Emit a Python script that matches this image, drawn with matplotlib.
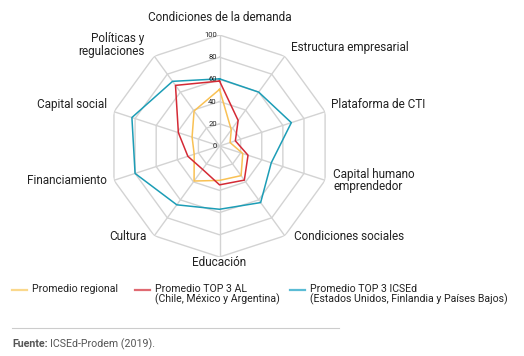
import numpy as np
import matplotlib
matplotlib.use("Agg")
import matplotlib.pyplot as plt
from matplotlib.lines import Line2D

plt.rcParams['font.family'] = ['Roboto', 'DejaVu Sans']

categories = ["Condiciones de la demanda", "Estructura empresarial", "Plataforma de CTI",
              "Capital humano\nemprendedor", "Condiciones sociales", "Educación", "Cultura",
              "Financiamiento", "Capital social", "Políticas y\nregulaciones"]
regional = [51, 18, 10, 22, 33, 31, 39, 24, 26, 39]
top3_al = [58.5, 28.5, 15, 27, 38, 35, 26, 30, 39, 67.5]
top3_icsed = [60.5, 60, 68, 49, 63, 57, 65.5, 80, 83, 72]
ticks = [0, 20, 40, 60, 80, 100]

series_names = ["Promedio regional", "Promedio TOP 3 AL\n(Chile, México y Argentina)",
                "Promedio TOP 3 ICSEd\n(Estados Unidos, Finlandia y Países Bajos)"]
colors = ["#F9C154", "#D42A35", "#1C9DB6"]
legend_colors = ["#FAD88C", "#E06A72", "#5BBCD5"]

fig = plt.figure(figsize=(5.24, 3.56), dpi=100)
ax = fig.add_axes([0.2071, 0.2781, 0.4237, 0.6236], projection='polar')
ax.set_theta_zero_location('N')
ax.set_theta_direction(-1)
ax.set_ylim(0, 100)
ax.grid(False)
ax.spines['polar'].set_visible(False)
ax.set_xticks([])
ax.set_yticks([])
ax.patch.set_alpha(0)

n = len(categories)
ang = np.linspace(0, 2 * np.pi, n, endpoint=False)
ang_c = np.append(ang, ang[0])

grid_c = "#D3D3D3"
for t in ticks[1:]:
    ax.plot(ang_c, [t] * (n + 1), color=grid_c, lw=1.0, zorder=1)
for a in ang:
    ax.plot([a, a], [0, 100], color=grid_c, lw=1.0, zorder=1)

for t in ticks:
    ax.annotate(str(t), xy=(0, t), xytext=(-2, 0), textcoords='offset points',
                ha='right', va='center', fontsize=5.5, color='#222222', zorder=5)

for vals, c in zip([regional, top3_al, top3_icsed], colors):
    v = list(vals) + [vals[0]]
    ax.plot(ang_c, v, color=c, lw=1.1, zorder=3)

# category labels: pixel offsets from the outer vertex
label_style = [
    ((0, 11), 'center', 'bottom'),
    ((6, 9), 'left', 'center'),
    ((6, 7), 'left', 'center'),
    ((8, 0), 'left', 'center'),
    ((9, -1), 'left', 'center'),
    ((0, -6), 'center', 'center'),
    ((-8, -1), 'right', 'center'),
    ((-7, 0), 'right', 'center'),
    ((-7, 7), 'right', 'center'),
    ((-10, 11), 'right', 'center'),
]
for a, lab, (off, ha, va) in zip(ang, categories, label_style):
    ax.annotate(lab, xy=(a, 100), xytext=(off[0] * 0.72, off[1] * 0.72),
                textcoords='offset points', ha=ha, va=va, fontsize=8.5,
                color='#222222', linespacing=0.95, annotation_clip=False)

# legend
W, H = 524, 356
def fx(px):
    return px / W
def fy(py):
    return 1 - py / H

leg_x = [12, 135, 290]
for x0, name, lc in zip(leg_x, series_names, legend_colors):
    fig.add_artist(Line2D([fx(x0), fx(x0 + 15)], [fy(290), fy(290)], color=lc, lw=1.6))
    fig.text(fx(x0 + 20), fy(284), name, ha='left', va='top', fontsize=7.6,
             color='#222222', linespacing=0.95)

fig.add_artist(Line2D([fx(12), fx(339)], [fy(328), fy(328)], color='#CCCCCC', lw=0.8))
t1 = fig.text(fx(12), fy(344), "Fuente:", ha='left', va='center', fontsize=7.7,
              color='#555555', fontweight='bold')
fig.canvas.draw()
bb = t1.get_window_extent()
fig.text(bb.x1 / W + 0.004, fy(344), "ICSEd-Prodem (2019).", ha='left', va='center',
         fontsize=7.7, color='#555555')

fig.savefig("out.png", dpi=100)
